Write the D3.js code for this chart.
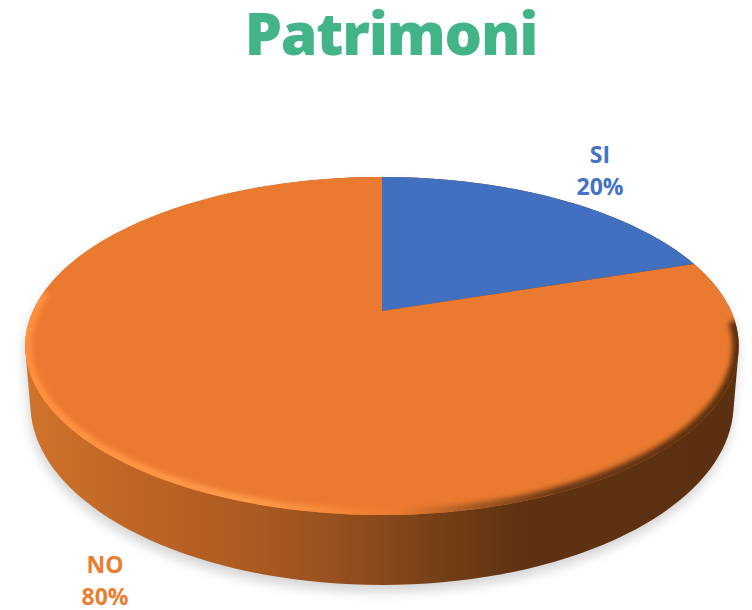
<!DOCTYPE html>
<html>
<head>
	<title>Patrimoni</title>
	<meta charset="utf-8">
	<script src="https://cdnjs.cloudflare.com/ajax/libs/d3/7.8.5/d3.min.js"></script>
	<style type="text/css">
		html, body { margin: 0; padding: 0; background: #fff; }
		text { font-family: "Open Sans", sans-serif; text-anchor: middle; }
	</style>
</head>
<body>
	<script type="text/javascript">

		const categories = ['SI', 'NO'];
		const values = [20, 80];
		const titleText = 'Patrimoni';
		const sliceColors = ['#4270c0', '#ea7a2f'];
		const labelColors = ['#4472c4', '#ed7d31'];

		let svg = d3.select('body').append('svg')
			.attr('width', 752)
			.attr('height', 610)
			.style('display', 'block');

		// perspective projection of the unit disc, top face and lower face
		function projector(cx, cy, rx, a, c) {
			return t => {
				let u = Math.sin(t), v = -Math.cos(t);
				let w = 1 + c * v;
				return [cx + rx * u / w, (cy + a * v) / w];
			};
		}
		let topFace = projector(382, 311, 349, 97.4, -0.207);
		let lowFace = projector(382, 366.5, 344, 97.4, -0.207);

		let steps = t0 => t1 => d3.range(0, 181).map(i => t0 + (t1 - t0) * i / 180);
		let fullTurn = steps(0)(2 * Math.PI);
		let line = d3.line();

		let pie = d3.pie().sort(null);
		let slices = pie(values);
		let percent = d3.format('.0%');
		let total = d3.sum(values);

		let defs = svg.append('defs');
		defs.append('filter').attr('id', 'shadowBlur')
			.attr('x', '-10%').attr('y', '-10%').attr('width', '120%').attr('height', '120%')
			.append('feGaussianBlur').attr('stdDeviation', 6);
		defs.append('filter').attr('id', 'rimBlur')
			.attr('filterUnits', 'userSpaceOnUse')
			.attr('x', 0).attr('y', 0).attr('width', 752).attr('height', 610)
			.append('feGaussianBlur').attr('stdDeviation', 2.8);
		defs.append('clipPath').attr('id', 'faceClip')
			.append('path').attr('d', line(fullTurn.map(topFace)) + 'Z');

		function gradient(id, stops) {
			let g = defs.append('linearGradient').attr('id', id)
				.attr('gradientUnits', 'userSpaceOnUse')
				.attr('x1', 25).attr('x2', 740).attr('y1', 0).attr('y2', 0);
			stops.forEach(s => g.append('stop').attr('offset', (s[0] - 25) / 715).attr('stop-color', s[1]));
		}
		gradient('wallFill', [[25, '#cf742c'], [130, '#bf6626'], [260, '#aa5a21'], [340, '#964f1e'], [430, '#784118'], [520, '#5f3211'], [740, '#5c2f10']]);
		gradient('rimFill', [[25, '#ff9040'], [250, '#ff9a4a'], [340, '#f58636'], [400, '#ea7a2f'], [470, '#a85c24'], [560, '#6a3814'], [740, '#5c2f10']]);

		let hull = d3.polygonHull(fullTurn.map(topFace).concat(fullTurn.map(lowFace)));
		let hullPath = line(hull) + 'Z';

		// drop shadow
		svg.append('path')
			.attr('d', hullPath)
			.attr('transform', 'translate(-1,7)')
			.attr('fill', '#000')
			.attr('opacity', 0.17)
			.attr('filter', 'url(#shadowBlur)');

		// side wall
		svg.append('path')
			.attr('d', hullPath)
			.attr('fill', 'url(#wallFill)');

		// top face slices
		svg.selectAll('path.slice')
			.data(slices)
			.enter().append('path')
			.attr('class', 'slice')
			.attr('d', d => {
				let arc = steps(d.startAngle)(d.endAngle).map(topFace);
				return line([[382, 311]].concat(arc)) + 'Z';
			})
			.attr('fill', (d, i) => sliceColors[i]);

		// bevel along the lower rim
		svg.append('g')
			.attr('clip-path', 'url(#faceClip)')
			.append('path')
			.attr('d', line(steps(1.5 * Math.PI + 0.12)(0.5 * Math.PI + 0.06).map(topFace)))
			.attr('fill', 'none')
			.attr('stroke', 'url(#rimFill)')
			.attr('stroke-width', 13)
			.attr('filter', 'url(#rimBlur)');

		// title
		svg.append('text')
			.attr('x', 391)
			.attr('y', 55)
			.attr('font-size', 59)
			.attr('font-weight', 800)
			.attr('letter-spacing', -1.2)
			.attr('fill', '#43b388')
			.text(titleText);

		// data labels
		let labelX = [600, 105];
		let labelY = [163, 573];
		categories.forEach((c, i) => {
			let g = svg.append('g').attr('fill', labelColors[i]).attr('font-size', 23).attr('font-weight', 700);
			g.append('text').attr('x', labelX[i]).attr('y', labelY[i]).text(c);
			g.append('text').attr('x', labelX[i]).attr('y', labelY[i] + 32).text(percent(values[i] / total));
		});

	</script>
</body>
</html>
